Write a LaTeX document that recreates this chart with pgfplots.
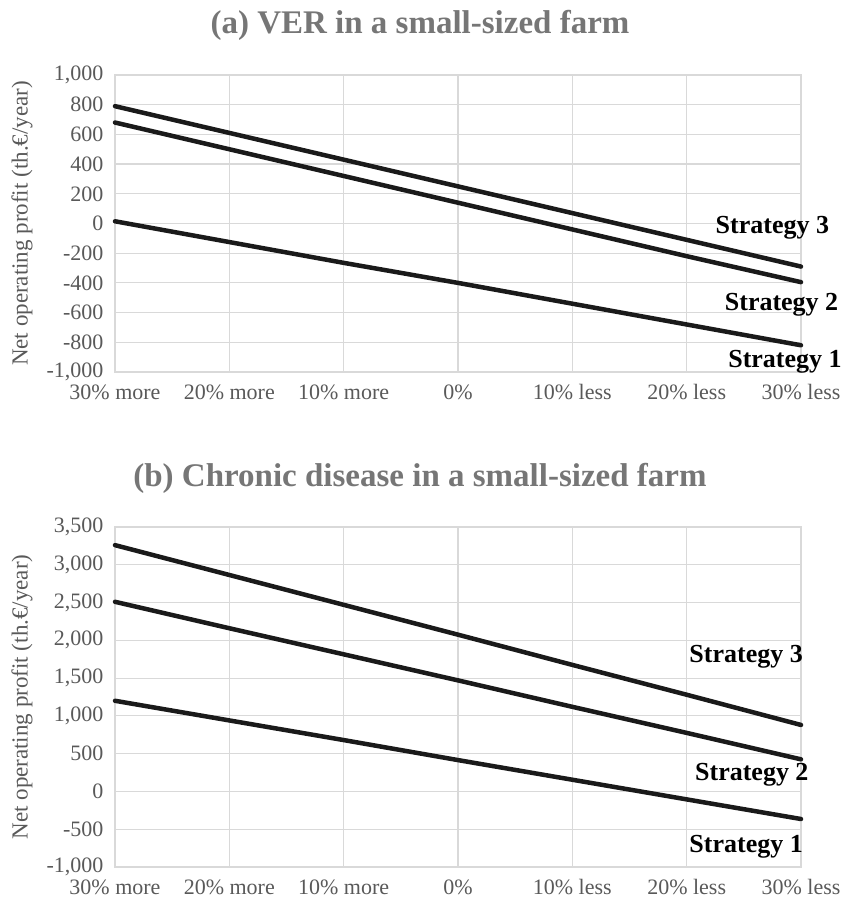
\documentclass[border=0pt]{standalone}
\usepackage{fontspec}
\setmainfont{Liberation Serif}
\usepackage{pgfplots}
\pgfplotsset{compat=1.18}
\definecolor{gridc}{HTML}{D9D9D9}
\definecolor{tickc}{HTML}{595959}
\definecolor{titlec}{HTML}{767676}
\definecolor{linec}{HTML}{1A1A1A}
\tikzset{strat/.style={font=\bfseries\fontsize{26bp}{30bp}\selectfont, text=black},
  sline/.style={draw=linec, line width=4.5bp, line cap=round, line join=round, mark=none}}
\pgfplotsset{
 myaxis/.style={
  scale only axis, width=686bp, xmin=0, xmax=6, xtick={0,...,6},
  xticklabels={30\% more,20\% more,10\% more,0\%,10\% less,20\% less,30\% less},
  grid=major, grid style={gridc, line width=1.2bp},
  axis line style={gridc, line width=1.2bp},
  major tick length=0pt,
  tick label style={font=\fontsize{22bp}{26bp}\selectfont, text=tickc},
  /pgf/number format/assume math mode=true,
  /pgf/number format/1000 sep={,},
  yticklabel style={xshift=-8bp},
  xticklabel style={yshift=-9bp},
  every axis y label/.style={at={(rel axis cs:0,0.5)}, xshift=-93bp, rotate=90, anchor=center,
     font=\fontsize{23bp}{27bp}\selectfont, text=tickc},
  ylabel={Net operating profit (th.€/year)},
  clip=false,
 },
}
\begin{document}
\begin{tikzpicture}
\begin{axis}[myaxis, height=297bp, ymin=-1000, ymax=1000, ytick={-1000,-800,...,1000},
  at={(0,0)}, anchor=south west]
\addplot[sline] coordinates {(0,15) (1,-125) (2,-265) (3,-400) (4,-540) (5,-680) (6,-820)};
\addplot[sline] coordinates {(0,680) (1,500) (2,320) (3,140) (4,-40) (5,-220) (6,-395)};
\addplot[sline] coordinates {(0,790) (1,610) (2,430) (3,250) (4,70) (5,-110) (6,-290)};
\node[strat] at (axis cs:5.75,-30) {Strategy 3};
\node[strat] at (axis cs:5.83,-549) {Strategy 2};
\node[strat] at (axis cs:5.86,-933) {Strategy 1};
\end{axis}
\begin{axis}[myaxis, height=340bp, ymin=-1000, ymax=3500, ytick={-1000,-500,...,3500},
  at={(0,-155bp)}, anchor=north west]
\addplot[sline] coordinates {(0,1200) (1,940) (2,680) (3,415) (4,155) (5,-105) (6,-365)};
\addplot[sline] coordinates {(0,2510) (1,2160) (2,1815) (3,1470) (4,1120) (5,775) (6,425)};
\addplot[sline] coordinates {(0,3260) (1,2865) (2,2470) (3,2075) (4,1675) (5,1280) (6,880)};
\node[strat] at (axis cs:5.52,1780) {Strategy 3};
\node[strat] at (axis cs:5.57,218) {Strategy 2};
\node[strat] at (axis cs:5.52,-735) {Strategy 1};
\end{axis}
\node[font=\bfseries\fontsize{33bp}{38bp}\selectfont, text=titlec] at (305bp,347bp) {(a) VER in a small-sized farm};
\node[font=\bfseries\fontsize{33bp}{38bp}\selectfont, text=titlec] at (305bp,-106bp) {(b) Chronic disease in a small-sized farm};
\pgfresetboundingbox
\path[use as bounding box] (-115bp,-530bp) rectangle (728bp,372bp);
\end{tikzpicture}
\end{document}
